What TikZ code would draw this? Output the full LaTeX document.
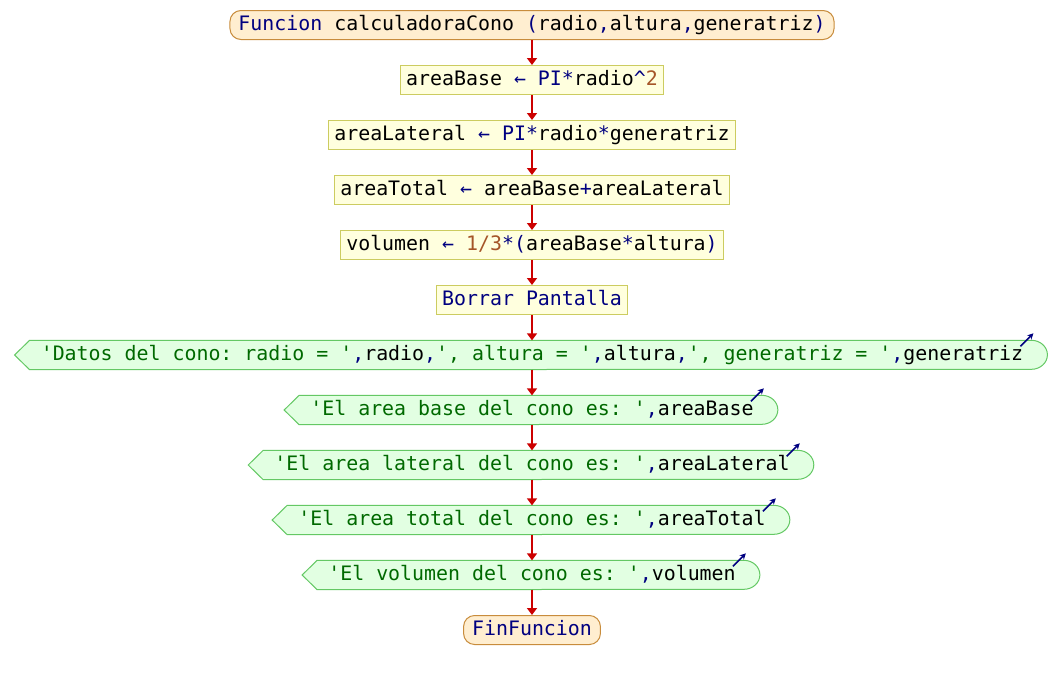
\documentclass[tikz,border=0pt]{standalone}
\usepackage{fontspec}
\setmonofont{DejaVu Sans Mono}
\usetikzlibrary{arrows.meta,backgrounds}

\definecolor{kwblue}{RGB}{0,0,128}
\definecolor{litgreen}{RGB}{0,105,0}
\definecolor{numbrown}{RGB}{165,85,40}
\definecolor{procfill}{RGB}{255,255,222}
\definecolor{procline}{RGB}{204,204,96}
\definecolor{termfill}{RGB}{255,238,208}
\definecolor{termline}{RGB}{200,140,60}
\definecolor{outfill}{RGB}{226,255,226}
\definecolor{outline}{RGB}{100,200,100}
\definecolor{flowred}{RGB}{204,0,0}

% token colouring for the pseudo-code
\newcommand{\tkey}[1]{\textcolor{kwblue}{#1}}
\newcommand{\tlit}[1]{\textcolor{litgreen}{#1}}
\newcommand{\tnum}[1]{\textcolor{numbrown}{#1}}

\tikzset{
  code/.style={font=\ttfamily\fontsize{19.9pt}{24pt}\selectfont,
    text height=14pt, text depth=4pt, minimum height=29pt, anchor=center},
  procbox/.style={code, draw=procline, fill=procfill, line width=1pt, inner xsep=6pt, inner ysep=0pt},
  termbox/.style={code, draw=termline, fill=termfill, line width=1pt, rounded corners=11pt, inner xsep=8.5pt, inner ysep=0pt},
  outtext/.style={code, inner xsep=0pt, inner ysep=0pt},
  outshape/.style={draw=outline, fill=outfill, line width=1pt},
  flow/.style={draw=flowred, line width=1.6pt, -{Triangle[width=10pt,length=7pt]}},
  outmark/.style={draw=kwblue, line width=1.6pt, -{Stealth[length=6pt,width=6pt]}}
}

% display-shaped outline around an output text node
\newcommand{\outframe}[1]{%
  \path[outshape] ([xshift=-26pt]#1.west) -- ([xshift=-11pt]#1.north west)
    -- ([xshift=8pt]#1.north east)
    arc[start angle=90, end angle=-90, x radius=16pt, y radius=14.5pt]
    -- ([xshift=-11pt]#1.south west) -- cycle;}

\begin{document}
\begin{tikzpicture}[x=1pt,y=1pt]
  \path[use as bounding box] (0,0) rectangle (1064,-680);

  \node[termbox] (f0) at (532,-25) {\tkey{Funcion} calculadoraCono \tkey{(}radio\tkey{,}altura\tkey{,}generatriz\tkey{)}};
  \node[procbox] (p1) at (532,-80) {areaBase \tkey{←} \tkey{PI*}radio\tkey{\textasciicircum}\tnum{2}};
  \node[procbox] (p2) at (532,-135) {areaLateral \tkey{←} \tkey{PI*}radio\tkey{*}generatriz};
  \node[procbox] (p3) at (532,-190) {areaTotal \tkey{←} areaBase\tkey{+}areaLateral};
  \node[procbox] (p4) at (532,-245) {volumen \tkey{←} \tnum{1/3}\tkey{*(}areaBase\tkey{*}altura\tkey{)}};
  \node[procbox] (p5) at (532,-300) {\tkey{Borrar Pantalla}};
  \node[outtext] (o1) at (532,-355) {\tlit{'Datos del cono: radio = '}\tkey{,}radio\tkey{,}\tlit{', altura = '}\tkey{,}altura\tkey{,}\tlit{', generatriz = '}\tkey{,}generatriz};
  \node[outtext] (o2) at (532,-410) {\tlit{'El area base del cono es: '}\tkey{,}areaBase};
  \node[outtext] (o3) at (532,-465) {\tlit{'El area lateral del cono es: '}\tkey{,}areaLateral};
  \node[outtext] (o4) at (532,-520) {\tlit{'El area total del cono es: '}\tkey{,}areaTotal};
  \node[outtext] (o5) at (532,-575) {\tlit{'El volumen del cono es: '}\tkey{,}volumen};
  \node[termbox] (f1) at (532,-630) {\tkey{FinFuncion}};

  \begin{pgfonlayer}{background}
    \fill[white] (0,0) rectangle (1064,-680);
    \foreach \o in {o1,o2,o3,o4,o5} {\outframe{\o}}
  \end{pgfonlayer}

  % output markers
  \foreach \o in {o1,o2,o3,o4,o5}
    \draw[outmark] ([xshift=-3pt,yshift=-6pt]\o.north east) -- ([xshift=10pt,yshift=7pt]\o.north east);

  % control flow
  \draw[flow] (f0) -- (p1);
  \draw[flow] (p1) -- (p2);
  \draw[flow] (p2) -- (p3);
  \draw[flow] (p3) -- (p4);
  \draw[flow] (p4) -- (p5);
  \draw[flow] (p5) -- (o1);
  \draw[flow] (o1) -- (o2);
  \draw[flow] (o2) -- (o3);
  \draw[flow] (o3) -- (o4);
  \draw[flow] (o4) -- (o5);
  \draw[flow] (o5) -- (f1);
\end{tikzpicture}
\end{document}
